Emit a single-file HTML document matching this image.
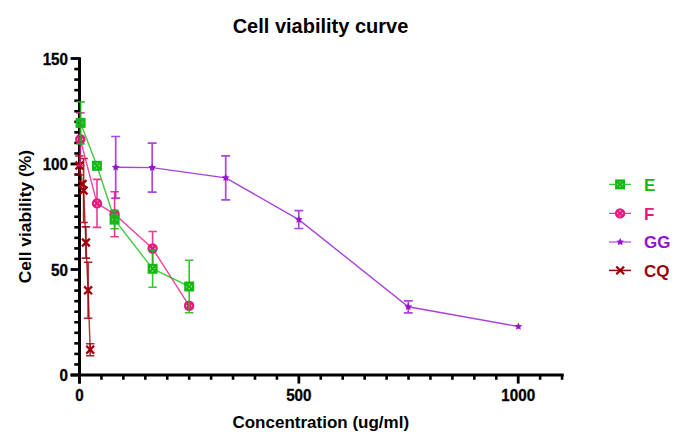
<!DOCTYPE html>
<html><head><meta charset="utf-8"><style>
html,body{margin:0;padding:0;background:#fff;}
svg{display:block;}
</style></head><body>
<svg width="685" height="447" viewBox="0 0 685 447">
<rect width="685" height="447" fill="#fff"/>
<line x1="79.5" y1="57.2" x2="79.5" y2="383.6" stroke="#000" stroke-width="3"/>
<line x1="70.6" y1="375" x2="563.7" y2="375" stroke="#000" stroke-width="3"/>
<line x1="70.6" y1="375.00" x2="79.5" y2="375.00" stroke="#000" stroke-width="2.8"/>
<line x1="74.3" y1="364.45" x2="79.5" y2="364.45" stroke="#000" stroke-width="2.6"/>
<line x1="74.3" y1="353.90" x2="79.5" y2="353.90" stroke="#000" stroke-width="2.6"/>
<line x1="74.3" y1="343.35" x2="79.5" y2="343.35" stroke="#000" stroke-width="2.6"/>
<line x1="74.3" y1="332.80" x2="79.5" y2="332.80" stroke="#000" stroke-width="2.6"/>
<line x1="74.3" y1="322.25" x2="79.5" y2="322.25" stroke="#000" stroke-width="2.6"/>
<line x1="74.3" y1="311.70" x2="79.5" y2="311.70" stroke="#000" stroke-width="2.6"/>
<line x1="74.3" y1="301.15" x2="79.5" y2="301.15" stroke="#000" stroke-width="2.6"/>
<line x1="74.3" y1="290.60" x2="79.5" y2="290.60" stroke="#000" stroke-width="2.6"/>
<line x1="74.3" y1="280.05" x2="79.5" y2="280.05" stroke="#000" stroke-width="2.6"/>
<line x1="70.6" y1="269.50" x2="79.5" y2="269.50" stroke="#000" stroke-width="2.8"/>
<line x1="74.3" y1="258.95" x2="79.5" y2="258.95" stroke="#000" stroke-width="2.6"/>
<line x1="74.3" y1="248.40" x2="79.5" y2="248.40" stroke="#000" stroke-width="2.6"/>
<line x1="74.3" y1="237.85" x2="79.5" y2="237.85" stroke="#000" stroke-width="2.6"/>
<line x1="74.3" y1="227.30" x2="79.5" y2="227.30" stroke="#000" stroke-width="2.6"/>
<line x1="74.3" y1="216.75" x2="79.5" y2="216.75" stroke="#000" stroke-width="2.6"/>
<line x1="74.3" y1="206.20" x2="79.5" y2="206.20" stroke="#000" stroke-width="2.6"/>
<line x1="74.3" y1="195.65" x2="79.5" y2="195.65" stroke="#000" stroke-width="2.6"/>
<line x1="74.3" y1="185.10" x2="79.5" y2="185.10" stroke="#000" stroke-width="2.6"/>
<line x1="74.3" y1="174.55" x2="79.5" y2="174.55" stroke="#000" stroke-width="2.6"/>
<line x1="70.6" y1="164.00" x2="79.5" y2="164.00" stroke="#000" stroke-width="2.8"/>
<line x1="74.3" y1="153.45" x2="79.5" y2="153.45" stroke="#000" stroke-width="2.6"/>
<line x1="74.3" y1="142.90" x2="79.5" y2="142.90" stroke="#000" stroke-width="2.6"/>
<line x1="74.3" y1="132.35" x2="79.5" y2="132.35" stroke="#000" stroke-width="2.6"/>
<line x1="74.3" y1="121.80" x2="79.5" y2="121.80" stroke="#000" stroke-width="2.6"/>
<line x1="74.3" y1="111.25" x2="79.5" y2="111.25" stroke="#000" stroke-width="2.6"/>
<line x1="74.3" y1="100.70" x2="79.5" y2="100.70" stroke="#000" stroke-width="2.6"/>
<line x1="74.3" y1="90.15" x2="79.5" y2="90.15" stroke="#000" stroke-width="2.6"/>
<line x1="74.3" y1="79.60" x2="79.5" y2="79.60" stroke="#000" stroke-width="2.6"/>
<line x1="74.3" y1="69.05" x2="79.5" y2="69.05" stroke="#000" stroke-width="2.6"/>
<line x1="70.6" y1="58.50" x2="79.5" y2="58.50" stroke="#000" stroke-width="2.8"/>
<line x1="79.50" y1="375" x2="79.50" y2="383.6" stroke="#000" stroke-width="2.8"/>
<line x1="101.44" y1="375" x2="101.44" y2="379.8" stroke="#000" stroke-width="2.6"/>
<line x1="123.37" y1="375" x2="123.37" y2="379.8" stroke="#000" stroke-width="2.6"/>
<line x1="145.31" y1="375" x2="145.31" y2="379.8" stroke="#000" stroke-width="2.6"/>
<line x1="167.24" y1="375" x2="167.24" y2="379.8" stroke="#000" stroke-width="2.6"/>
<line x1="189.18" y1="375" x2="189.18" y2="379.8" stroke="#000" stroke-width="2.6"/>
<line x1="211.11" y1="375" x2="211.11" y2="379.8" stroke="#000" stroke-width="2.6"/>
<line x1="233.04" y1="375" x2="233.04" y2="379.8" stroke="#000" stroke-width="2.6"/>
<line x1="254.98" y1="375" x2="254.98" y2="379.8" stroke="#000" stroke-width="2.6"/>
<line x1="276.91" y1="375" x2="276.91" y2="379.8" stroke="#000" stroke-width="2.6"/>
<line x1="298.85" y1="375" x2="298.85" y2="383.6" stroke="#000" stroke-width="2.8"/>
<line x1="320.78" y1="375" x2="320.78" y2="379.8" stroke="#000" stroke-width="2.6"/>
<line x1="342.72" y1="375" x2="342.72" y2="379.8" stroke="#000" stroke-width="2.6"/>
<line x1="364.65" y1="375" x2="364.65" y2="379.8" stroke="#000" stroke-width="2.6"/>
<line x1="386.59" y1="375" x2="386.59" y2="379.8" stroke="#000" stroke-width="2.6"/>
<line x1="408.52" y1="375" x2="408.52" y2="379.8" stroke="#000" stroke-width="2.6"/>
<line x1="430.46" y1="375" x2="430.46" y2="379.8" stroke="#000" stroke-width="2.6"/>
<line x1="452.39" y1="375" x2="452.39" y2="379.8" stroke="#000" stroke-width="2.6"/>
<line x1="474.33" y1="375" x2="474.33" y2="379.8" stroke="#000" stroke-width="2.6"/>
<line x1="496.26" y1="375" x2="496.26" y2="379.8" stroke="#000" stroke-width="2.6"/>
<line x1="518.20" y1="375" x2="518.20" y2="383.6" stroke="#000" stroke-width="2.8"/>
<line x1="540.13" y1="375" x2="540.13" y2="379.8" stroke="#000" stroke-width="2.6"/>
<line x1="562.07" y1="375" x2="562.07" y2="379.8" stroke="#000" stroke-width="2.6"/>
<path d="M79.4 156V165.5M79.4 165.5V175M75.15 156H83.65M75.15 175H83.65M83.6 158.5V190.5M83.6 190.5V222.5M79.35 158.5H87.85M79.35 222.5H87.85M85.9 226.9V242.5M85.9 242.5V258.1M81.65 226.9H90.15M81.65 258.1H90.15M88.1 262.3V290.3M88.1 290.3V318.3M83.85 262.3H92.35M83.85 318.3H92.35M90.2 343.7V349.7M90.2 349.7V355.7M85.95 343.7H94.45M85.95 355.7H94.45" fill="none" stroke="#A0000A" stroke-width="1.6" stroke-opacity="0.85"/>
<polyline points="79.4,165.5 82.5,184 83.6,190.5 85.9,242.5 88.1,290.3 90.2,349.7" fill="none" stroke="#A0000A" stroke-width="1.45" stroke-opacity="0.78"/>
<path d="M75.50 161.60L83.30 169.40M83.30 161.60L75.50 169.40" stroke="#A0000A" stroke-width="2.3"/>
<path d="M78.60 180.10L86.40 187.90M86.40 180.10L78.60 187.90" stroke="#A0000A" stroke-width="2.3"/>
<path d="M79.70 186.60L87.50 194.40M87.50 186.60L79.70 194.40" stroke="#A0000A" stroke-width="2.3"/>
<path d="M82.00 238.60L89.80 246.40M89.80 238.60L82.00 246.40" stroke="#A0000A" stroke-width="2.3"/>
<path d="M84.20 286.40L92.00 294.20M92.00 286.40L84.20 294.20" stroke="#A0000A" stroke-width="2.3"/>
<path d="M86.30 345.80L94.10 353.60M94.10 345.80L86.30 353.60" stroke="#A0000A" stroke-width="2.3"/>
<path d="M115.7 136.5V167.3M115.7 167.3V198.1M111.2 136.5H120.2M111.2 198.1H120.2M152.2 143.1V167.6M152.2 167.6V192.1M147.7 143.1H156.7M147.7 192.1H156.7M225.7 155.8V177.8M225.7 177.8V199.8M221.2 155.8H230.2M221.2 199.8H230.2M298.8 210.7V219.6M298.8 219.6V228.5M294.3 210.7H303.3M294.3 228.5H303.3M408.3 300.8V306.8M408.3 306.8V312.8M403.8 300.8H412.8M403.8 312.8H412.8" fill="none" stroke="#9612D0" stroke-width="1.7" stroke-opacity="0.78"/>
<polyline points="115.7,167.3 152.2,167.6 225.7,177.8 298.8,219.6 408.3,306.8 518.4,326.5" fill="none" stroke="#9612D0" stroke-width="1.4" stroke-opacity="0.8"/>
<polygon points="115.70,163.20 116.86,165.71 119.60,166.03 117.57,167.91 118.11,170.62 115.70,169.27 113.29,170.62 113.83,167.91 111.80,166.03 114.54,165.71" fill="#9612D0"/>
<polygon points="152.20,163.50 153.36,166.01 156.10,166.33 154.07,168.21 154.61,170.92 152.20,169.57 149.79,170.92 150.33,168.21 148.30,166.33 151.04,166.01" fill="#9612D0"/>
<polygon points="225.70,173.70 226.86,176.21 229.60,176.53 227.57,178.41 228.11,181.12 225.70,179.77 223.29,181.12 223.83,178.41 221.80,176.53 224.54,176.21" fill="#9612D0"/>
<polygon points="298.80,215.50 299.96,218.01 302.70,218.33 300.67,220.21 301.21,222.92 298.80,221.57 296.39,222.92 296.93,220.21 294.90,218.33 297.64,218.01" fill="#9612D0"/>
<polygon points="408.30,302.70 409.46,305.21 412.20,305.53 410.17,307.41 410.71,310.12 408.30,308.77 405.89,310.12 406.43,307.41 404.40,305.53 407.14,305.21" fill="#9612D0"/>
<polygon points="518.40,322.40 519.56,324.91 522.30,325.23 520.27,327.11 520.81,329.82 518.40,328.47 515.99,329.82 516.53,327.11 514.50,325.23 517.24,324.91" fill="#9612D0"/>
<path d="M80.3 112.9V134.7M80.3 143.7V165.5M76.05 112.9H84.55M76.05 165.5H84.55M97 179.4V198.9M97 207.9V227.4M92.75 179.4H101.25M92.75 227.4H101.25M114.6 191.7V209.7M114.6 218.7V236.7M110.35 191.7H118.85M110.35 236.7H118.85M152.6 231.5V244M152.6 253V265.5M148.35 231.5H156.85M148.35 265.5H156.85M184.85 302.7H193.35M184.85 308.7H193.35" fill="none" stroke="#E6197F" stroke-width="1.6" stroke-opacity="0.85"/>
<polyline points="80.3,139.2 97,203.4 114.6,214.2 152.6,248.5 189.1,305.7" fill="none" stroke="#E6197F" stroke-width="1.45" stroke-opacity="0.78"/>
<circle cx="80.3" cy="139.2" r="4.00" fill="none" stroke="#E6197F" stroke-width="2.4"/><path d="M77.42 136.32L83.18 142.08M83.18 136.32L77.42 142.08" stroke="#E6197F" stroke-width="2.4"/>
<circle cx="97" cy="203.4" r="4.00" fill="none" stroke="#E6197F" stroke-width="2.4"/><path d="M94.12 200.52L99.88 206.28M99.88 200.52L94.12 206.28" stroke="#E6197F" stroke-width="2.4"/>
<circle cx="114.6" cy="214.2" r="4.00" fill="none" stroke="#E6197F" stroke-width="2.4"/><path d="M111.72 211.32L117.48 217.08M117.48 211.32L111.72 217.08" stroke="#E6197F" stroke-width="2.4"/>
<circle cx="152.6" cy="248.5" r="4.00" fill="none" stroke="#E6197F" stroke-width="2.4"/><path d="M149.72 245.62L155.48 251.38M155.48 245.62L149.72 251.38" stroke="#E6197F" stroke-width="2.4"/>
<circle cx="189.1" cy="305.7" r="4.00" fill="none" stroke="#E6197F" stroke-width="2.4"/><path d="M186.22 302.82L191.98 308.58M191.98 302.82L186.22 308.58" stroke="#E6197F" stroke-width="2.4"/>
<path d="M80.6 101.9V118.4M80.6 127.4V143.9M76.35 101.9H84.85M76.35 143.9H84.85M114.6 210.5V215.1M114.6 224.1V228.7M110.35 210.5H118.85M110.35 228.7H118.85M152.6 250.25V264.25M152.6 273.25V287.25M148.35 250.25H156.85M148.35 287.25H156.85M189.2 260.2V282M189.2 291V312.8M184.95 260.2H193.45M184.95 312.8H193.45" fill="none" stroke="#14BA14" stroke-width="1.6" stroke-opacity="0.85"/>
<polyline points="80.6,122.9 96.9,165.8 114.6,219.6 152.6,268.75 189.2,286.5" fill="none" stroke="#14BA14" stroke-width="1.45" stroke-opacity="0.78"/>
<rect x="76.85" y="119.15" width="7.50" height="7.50" fill="none" stroke="#14BA14" stroke-width="2.5"/><path d="M76.85 119.15L84.35 126.65M84.35 119.15L76.85 126.65" stroke="#14BA14" stroke-width="2.3"/>
<rect x="93.15" y="162.05" width="7.50" height="7.50" fill="none" stroke="#14BA14" stroke-width="2.5"/><path d="M93.15 162.05L100.65 169.55M100.65 162.05L93.15 169.55" stroke="#14BA14" stroke-width="2.3"/>
<rect x="110.85" y="215.85" width="7.50" height="7.50" fill="none" stroke="#14BA14" stroke-width="2.5"/><path d="M110.85 215.85L118.35 223.35M118.35 215.85L110.85 223.35" stroke="#14BA14" stroke-width="2.3"/>
<rect x="148.85" y="265.00" width="7.50" height="7.50" fill="none" stroke="#14BA14" stroke-width="2.5"/><path d="M148.85 265.00L156.35 272.50M156.35 265.00L148.85 272.50" stroke="#14BA14" stroke-width="2.3"/>
<rect x="185.45" y="282.75" width="7.50" height="7.50" fill="none" stroke="#14BA14" stroke-width="2.5"/><path d="M185.45 282.75L192.95 290.25M192.95 282.75L185.45 290.25" stroke="#14BA14" stroke-width="2.3"/>
<text x="320.5" y="32.8" font-family="Liberation Sans, sans-serif" font-weight="bold" font-size="20" text-anchor="middle">Cell viability curve</text>
<text x="320.75" y="428" font-family="Liberation Sans, sans-serif" font-weight="bold" font-size="17" text-anchor="middle">Concentration (ug/ml)</text>
<text transform="translate(31.0,216.7) rotate(-90)" font-family="Liberation Sans, sans-serif" font-weight="bold" font-size="17.4" text-anchor="middle">Cell viability (%)</text>
<text transform="translate(68 381.40) scale(1 1.04)" font-family="Liberation Sans, sans-serif" font-weight="bold" font-size="15.2" stroke="#000" stroke-width="0.3" text-anchor="end">0</text>
<text transform="translate(68 275.90) scale(1 1.04)" font-family="Liberation Sans, sans-serif" font-weight="bold" font-size="15.2" stroke="#000" stroke-width="0.3" text-anchor="end">50</text>
<text transform="translate(68 170.40) scale(1 1.04)" font-family="Liberation Sans, sans-serif" font-weight="bold" font-size="15.2" stroke="#000" stroke-width="0.3" text-anchor="end">100</text>
<text transform="translate(68 64.90) scale(1 1.04)" font-family="Liberation Sans, sans-serif" font-weight="bold" font-size="15.2" stroke="#000" stroke-width="0.3" text-anchor="end">150</text>
<text transform="translate(79.50 400.9) scale(1 1.04)" font-family="Liberation Sans, sans-serif" font-weight="bold" font-size="15.2" stroke="#000" stroke-width="0.3" text-anchor="middle">0</text>
<text transform="translate(298.85 400.9) scale(1 1.04)" font-family="Liberation Sans, sans-serif" font-weight="bold" font-size="15.2" stroke="#000" stroke-width="0.3" text-anchor="middle">500</text>
<text transform="translate(518.20 400.9) scale(1 1.04)" font-family="Liberation Sans, sans-serif" font-weight="bold" font-size="15.2" stroke="#000" stroke-width="0.3" text-anchor="middle">1000</text>
<path d="M609 184.4H615.5M624.7 184.4H631" stroke="#14BA14" stroke-width="1.4" stroke-opacity="0.85"/>
<rect x="616.35" y="180.65" width="7.50" height="7.50" fill="none" stroke="#14BA14" stroke-width="2.5"/><path d="M616.35 180.65L623.85 188.15M623.85 180.65L616.35 188.15" stroke="#14BA14" stroke-width="2.3"/>
<text x="644" y="190.60" font-family="Liberation Sans, sans-serif" font-weight="bold" font-size="17" fill="#14BA14">E</text>
<path d="M609 213.4H615.5M624.7 213.4H631" stroke="#E6197F" stroke-width="1.4" stroke-opacity="0.85"/>
<circle cx="620.1" cy="213.4" r="4.00" fill="none" stroke="#E6197F" stroke-width="2.4"/><path d="M617.22 210.52L622.98 216.28M622.98 210.52L617.22 216.28" stroke="#E6197F" stroke-width="2.4"/>
<text x="644" y="219.60" font-family="Liberation Sans, sans-serif" font-weight="bold" font-size="17" fill="#E6197F">F</text>
<line x1="609" y1="242.0" x2="631" y2="242.0" stroke="#9612D0" stroke-width="1.8" stroke-opacity="0.5"/>
<polygon points="620.20,237.90 621.36,240.41 624.10,240.73 622.07,242.61 622.61,245.32 620.20,243.97 617.79,245.32 618.33,242.61 616.30,240.73 619.04,240.41" fill="#9612D0"/>
<text x="644" y="248.20" font-family="Liberation Sans, sans-serif" font-weight="bold" font-size="17" fill="#9612D0">GG</text>
<line x1="609" y1="270.4" x2="631" y2="270.4" stroke="#A0000A" stroke-width="1.5"/>
<path d="M616.30 266.50L624.10 274.30M624.10 266.50L616.30 274.30" stroke="#A0000A" stroke-width="2.3"/>
<text x="644" y="276.60" font-family="Liberation Sans, sans-serif" font-weight="bold" font-size="17" fill="#A0000A">CQ</text>
</svg>
</body></html>
